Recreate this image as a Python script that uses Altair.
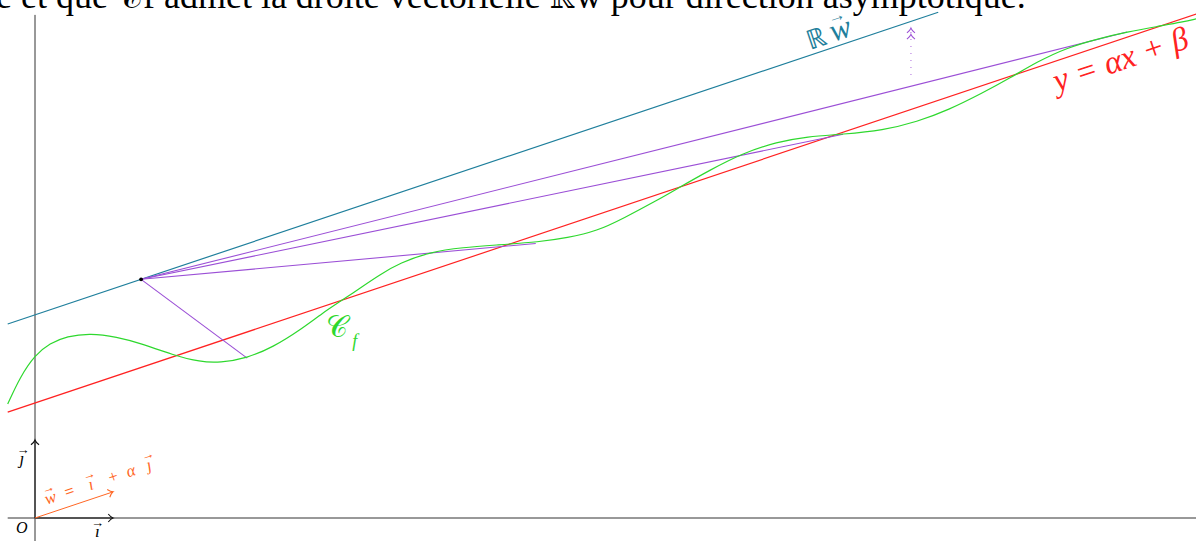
import altair as alt
import pandas as pd

# ---- data (in figure units: 1 unit = |i| = |j|) ----
curve_x = [-0.35, -0.19, 0.0, 0.19, 0.41, 0.71, 1.05, 1.35, 1.77, 2.12, 2.37, 2.72, 3.05, 3.40,
           3.69, 3.95, 4.17, 4.42, 4.68, 5.06, 5.49, 5.92, 6.47, 6.82, 7.21, 7.54, 7.99, 8.23,
           8.65, 9.08, 9.51, 9.90, 10.36, 10.87, 11.31, 11.71, 12.15, 12.50, 12.85, 13.23,
           13.65, 14.00, 14.38, 14.72, 14.89]
curve_y = [1.46, 1.81, 2.09, 2.24, 2.33, 2.37, 2.32, 2.24, 2.09, 2.00, 1.99, 2.05, 2.19, 2.41,
           2.63, 2.80, 2.95, 3.12, 3.27, 3.41, 3.47, 3.50, 3.54, 3.59, 3.68, 3.84, 4.08, 4.22,
           4.46, 4.68, 4.82, 4.89, 4.92, 4.97, 5.08, 5.23, 5.45, 5.64, 5.85, 6.03,
           6.15, 6.23, 6.30, 6.36, 6.40]

alpha = 0.335
beta = 1.474
line_x = [-0.35, 14.89]          # red asymptote y = alpha x + beta
teal_x = [-0.35, 11.58]          # line R w through P
P = (1.36, 3.06)
chord_x = [2.72, 6.42, 10.36, 14.00]
chord_y = [2.05, 3.52, 4.92, 6.23]
dotted_x = 11.23
dotted_y = [5.68, 6.28]

X_DOM = [-35 / 78, 1161 / 78]
Y_DOM = [-23 / 78, 518 / 78]

xs = alt.Scale(domain=X_DOM, nice=False, zero=False)
ys = alt.Scale(domain=Y_DOM, nice=False, zero=False)
X = lambda f: alt.X(f, type="quantitative", scale=xs, axis=None)
Y = lambda f: alt.Y(f, type="quantitative", scale=ys, axis=None)

SERIF = "Liberation Serif"
GREEN = "#2ed82e"
RED = "#ff2222"
TEAL = "#1f7f9c"
PURPLE = "#9b4fd6"
ORANGE = "#ff6624"
INK = "#111111"

# axes
axes_df = pd.DataFrame({"x": [-0.35, 0.0], "y": [0.0, -0.3], "x2": [14.89, 0.0], "y2": [0.0, 6.45]})
axes = alt.Chart(axes_df).mark_rule(color="#333333", strokeWidth=1).encode(
    x=X("x"), y=Y("y"), x2="x2", y2="y2")

curve_df = pd.DataFrame({"x": curve_x, "y": curve_y})
curve = alt.Chart(curve_df).mark_line(color=GREEN, strokeWidth=1.2, interpolate="basis").encode(
    x=X("x"), y=Y("y"))

red_df = pd.DataFrame({"x": line_x, "y": [alpha * v + beta for v in line_x]})
red = alt.Chart(red_df).mark_line(color=RED, strokeWidth=1.2).encode(x=X("x"), y=Y("y"))

teal_df = pd.DataFrame({"x": teal_x, "y": [P[1] + alpha * (v - P[0]) for v in teal_x]})
teal = alt.Chart(teal_df).mark_line(color=TEAL, strokeWidth=1.2).encode(x=X("x"), y=Y("y"))

chord_df = pd.DataFrame({"x": [P[0]] * 4, "y": [P[1]] * 4, "x2": chord_x, "y2": chord_y})
chords = alt.Chart(chord_df).mark_rule(color=PURPLE, strokeWidth=1.1).encode(
    x=X("x"), y=Y("y"), x2="x2", y2="y2")

dot_df = pd.DataFrame({"x": [dotted_x], "y": [dotted_y[0]], "y2": [dotted_y[1]]})
dotted = alt.Chart(dot_df).mark_rule(color=PURPLE, strokeWidth=1.2, strokeDash=[1, 6], opacity=0.7).encode(
    x=X("x"), y=Y("y"), y2="y2")

# vectors i, j, w
vec_df = pd.DataFrame({"x": [0, 0, 0], "y": [0, 0, 0], "x2": [1, 0, 1], "y2": [0, 1, alpha],
                       "c": [INK, INK, ORANGE]})
vectors = alt.Chart(vec_df).mark_rule(strokeWidth=1).encode(
    x=X("x"), y=Y("y"), x2="x2", y2="y2", color=alt.Color("c:N", scale=None))

ARROW = "M -1 -0.85 Q -0.45 -0.15 0 0 Q -0.45 0.15 -1 0.85"
head_df = pd.DataFrame({"x": [1, 0, 1, dotted_x, dotted_x], "y": [0, 1, alpha, dotted_y[1], dotted_y[1] - 0.08],
                        "a": [0, 270, 341.5, 270, 270], "c": [INK, INK, ORANGE, PURPLE, PURPLE]})
heads = alt.Chart(head_df).mark_point(shape=ARROW, size=90, filled=False, strokeWidth=1.1, opacity=1).encode(
    x=X("x"), y=Y("y"), angle=alt.Angle("a:Q", scale=None), color=alt.Color("c:N", scale=None))

pt = alt.Chart(pd.DataFrame({"x": [P[0]], "y": [P[1]]})).mark_circle(size=14, color="black", opacity=1).encode(
    x=X("x"), y=Y("y"))


def label(txt, x, y, color, size, angle=0, italic=False, align="center", baseline="middle",
          font=SERIF, dx=0, dy=0):
    df = pd.DataFrame({"x": [x], "y": [y], "t": [txt]})
    return alt.Chart(df).mark_text(color=color, fontSize=size, angle=angle, font=font, dx=dx, dy=dy,
                                   fontStyle="italic" if italic else "normal",
                                   align=align, baseline=baseline).encode(x=X("x"), y=Y("y"), text="t:N")


def vec_text(pieces, x, y, color, size, angle, arrow_size, arrow_dy):
    """pieces: list of (text, dx, italic, size_or_None, arrow_dx_or_None)"""
    out = []
    for txt, dx, it, sz, adx in pieces:
        out.append(label(txt, x, y, color, sz or size, angle=angle, italic=it, align="left",
                         baseline="alphabetic", dx=dx))
        if adx is not None:
            out.append(label("→", x, y, color, arrow_size, angle=angle, align="left",
                             baseline="alphabetic", dx=dx + adx, dy=arrow_dy))
    return out


labels = [
    label("O", -0.17, -0.19, "black", 16, italic=True, baseline="alphabetic"),
]
labels += vec_text([("ı", 0, True, None, -4)], 0.77, -0.24, "black", 17, 0, 13, -10)
labels += vec_text([("ȷ", 0, True, None, -3)], -0.20, 0.69, "black", 17, 0, 13, -10)
labels += vec_text([("w", 0, True, None, 0), ("=", 21, False, None, None), ("ı", 46, True, None, -3),
                    ("+", 67, False, None, None), ("α", 86, True, None, None), ("ȷ", 107, True, None, -2)],
                   0.15, 0.17, ORANGE, 17, 341.5, 13, -11)
labels += vec_text([("ℝ", 0, False, 27, None), ("w", 25, True, 32, 2)],
                   9.93, 6.0, TEAL, 27, 341.5, 18, -18)
labels += [
    label("y = αx + β", 13.92, 5.87, RED, 33, angle=341.5, italic=True),
    label("𝒞", 3.87, 2.43, GREEN, 30),
    label("f", 4.10, 2.26, GREEN, 18, italic=True),
    label("e et que 𝒞f admet la droite vectorielle ℝw pour direction asymptotique.",
          -0.5, 6.54, "black", 36, align="left", baseline="alphabetic"),
]

chart = alt.layer(axes, teal, red, chords, curve, dotted, vectors, heads, pt, *labels).properties(
    width=1196, height=541, padding=0, autosize=alt.AutoSizeParams(type="none")
).configure_view(stroke=None)

chart.save("out.html", embed_options={"renderer": "svg", "actions": False})
